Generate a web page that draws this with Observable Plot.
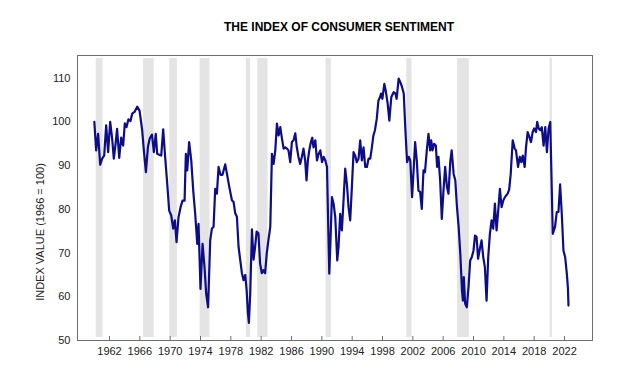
<!DOCTYPE html>
<html>
<head>
<meta charset="utf-8">
<script src="https://cdn.jsdelivr.net/npm/d3@7"></script>
<script src="https://cdn.jsdelivr.net/npm/@observablehq/plot@0.6"></script>
<style>
  html, body { margin: 0; padding: 0; background: #fff; }
  #wrap { position: relative; width: 623px; height: 365px; }
  #title { box-sizing: border-box; height: 40px; padding-top: 20px; padding-left: 55px; line-height: 14px;
    text-align: center; font: bold 12px Arial, "Liberation Sans", sans-serif; color: #000; width: 623px; }
  #ylabel { position: absolute; left: -60px; top: 226px; width: 200px; height: 12px; line-height: 12px;
    text-align: center; font: 11px Arial, "Liberation Sans", sans-serif; color: #222;
    transform: rotate(-90deg); transform-origin: 50% 50%; white-space: nowrap; }
</style>
</head>
<body>
<div id="wrap">
  <div id="title"></div>
  <div id="chart"></div>
  <div id="ylabel"></div>
</div>
<script>
const title = "THE INDEX OF CONSUMER SENTIMENT";
const yLabel = "INDEX VALUE (1966 = 100)";

const dates = [
  1960.0, 1960.24, 1960.5, 1960.77, 1961.03, 1961.3, 1961.56, 1961.82, 1962.09, 1962.35, 1962.57, 1962.8,
  1963.0, 1963.28, 1963.54, 1963.8, 1964.02, 1964.24, 1964.5, 1964.77, 1964.99, 1965.3, 1965.65, 1965.96,
  1966.31, 1966.53, 1966.8, 1967.06, 1967.3, 1967.6, 1967.85, 1968.1, 1968.29, 1968.55, 1968.82, 1969.08,
  1969.34, 1969.61, 1969.87, 1970.14, 1970.4, 1970.62, 1970.84, 1971.1, 1971.37, 1971.63, 1971.9, 1972.07,
  1972.25, 1972.5, 1972.78, 1973.04, 1973.3, 1973.57, 1973.74, 1974.0, 1974.27, 1974.53, 1974.75, 1975.0,
  1975.28, 1975.5, 1975.72, 1975.94, 1976.16, 1976.38, 1976.64, 1976.9, 1977.26, 1977.48, 1977.8, 1978.14,
  1978.36, 1978.58, 1978.8, 1979.02, 1979.24, 1979.46, 1979.68, 1979.9, 1980.08, 1980.25, 1980.38, 1980.56,
  1980.78, 1981.0, 1981.2, 1981.4, 1981.64, 1981.86, 1982.08, 1982.3, 1982.52, 1982.74, 1982.96, 1983.2,
  1983.42, 1983.64, 1983.86, 1984.08, 1984.3, 1984.52, 1984.74, 1984.96, 1985.18, 1985.4, 1985.6, 1985.83,
  1986.05, 1986.27, 1986.5, 1986.7, 1986.92, 1987.14, 1987.36, 1987.58, 1987.8, 1987.98, 1988.16, 1988.34,
  1988.56, 1988.74, 1988.9, 1989.14, 1989.36, 1989.58, 1989.8, 1990.02, 1990.24, 1990.46, 1990.68, 1990.8,
  1990.98, 1991.11, 1991.33, 1991.55, 1991.77, 1992.03, 1992.2, 1992.42, 1992.64, 1992.86, 1993.08, 1993.3,
  1993.52, 1993.74, 1993.96, 1994.18, 1994.4, 1994.6, 1994.84, 1995.06, 1995.28, 1995.5, 1995.72, 1995.94,
  1996.16, 1996.38, 1996.6, 1996.8, 1997.0, 1997.24, 1997.46, 1997.68, 1997.8, 1997.98, 1998.24, 1998.42,
  1998.68, 1998.9, 1999.16, 1999.47, 1999.7, 1999.86, 2000.13, 2000.35, 2000.57, 2000.8, 2001.0, 2001.24,
  2001.46, 2001.66, 2001.9, 2002.1, 2002.3, 2002.52, 2002.74, 2002.96, 2003.18, 2003.4, 2003.6, 2003.84,
  2004.06, 2004.28, 2004.42, 2004.6, 2004.8, 2005.03, 2005.2, 2005.38, 2005.6, 2005.82, 2006.04, 2006.26,
  2006.5, 2006.7, 2006.94, 2007.12, 2007.38, 2007.6, 2007.82, 2008.04, 2008.26, 2008.48, 2008.6, 2008.72,
  2008.9, 2009.12, 2009.34, 2009.56, 2009.78, 2010.0, 2010.2, 2010.4, 2010.6, 2010.84, 2011.06, 2011.28,
  2011.5, 2011.72, 2011.94, 2012.16, 2012.38, 2012.6, 2012.82, 2013.04, 2013.26, 2013.48, 2013.7, 2013.92,
  2014.14, 2014.5, 2014.7, 2014.9, 2015.17, 2015.43, 2015.6, 2015.87, 2016.1, 2016.3, 2016.5, 2016.75,
  2016.92, 2017.14, 2017.36, 2017.58, 2017.8, 2018.0, 2018.24, 2018.4, 2018.6, 2018.8, 2019.0, 2019.24,
  2019.46, 2019.68, 2019.9, 2020.12, 2020.45, 2020.75, 2020.98, 2021.2, 2021.42, 2021.64, 2021.86, 2022.08,
  2022.3, 2022.45, 2022.52
];
const sentiment = [
  100.0, 93.5, 97.3, 90.2, 91.6, 92.3, 99.2, 93.1, 100.0, 96.2, 91.6, 95.0,
  98.4, 91.8, 96.4, 94.6, 99.7, 98.8, 100.6, 100.2, 101.9, 102.3, 103.5, 102.6,
  98.1, 93.5, 88.5, 94.2, 96.2, 97.1, 93.1, 97.3, 92.7, 92.5, 92.3, 98.3,
  91.9, 85.9, 79.7, 78.6, 75.6, 77.5, 72.5, 78.2, 80.5, 82.0, 82.0, 92.7,
  88.9, 95.4, 91.2, 84.3, 79.0, 72.1, 76.7, 61.8, 72.1, 66.8, 60.7, 57.6,
  72.9, 75.6, 76.0, 84.7, 83.6, 89.7, 87.9, 87.9, 90.3, 88.2, 85.1, 82.1,
  81.7, 79.1, 78.3, 71.4, 68.4, 65.4, 63.8, 65.0, 61.6, 56.3, 54.0, 60.9,
  75.4, 68.5, 71.4, 74.9, 74.5, 67.6, 65.4, 66.1, 65.4, 70.0, 73.0, 76.0,
  92.7, 90.4, 93.5, 99.6, 96.9, 98.8, 96.2, 93.9, 94.2, 93.9, 93.5, 90.8,
  95.4, 95.8, 97.4, 94.2, 92.0, 90.4, 92.0, 93.9, 91.2, 86.6, 91.2, 93.5,
  95.4, 96.4, 94.2, 95.8, 91.2, 92.7, 93.5, 90.8, 92.0, 91.2, 89.7, 79.7,
  65.3, 71.4, 82.8, 81.3, 78.2, 68.3, 71.4, 79.0, 75.2, 82.0, 89.3, 85.9,
  80.5, 77.5, 85.1, 93.1, 92.3, 90.8, 91.6, 95.8, 91.2, 94.2, 89.7, 89.7,
  91.6, 91.6, 94.2, 96.9, 98.1, 100.7, 104.9, 105.7, 106.5, 105.3, 108.7, 107.2,
  104.2, 100.3, 105.7, 106.8, 106.5, 105.3, 109.9, 109.1, 108.0, 106.5, 98.8, 90.8,
  92.0, 91.2, 82.8, 88.9, 95.4, 91.2, 84.3, 84.0, 80.1, 88.9, 88.5, 93.5,
  97.3, 93.5, 95.8, 93.5, 95.0, 94.6, 89.7, 92.0, 86.6, 77.8, 84.3, 89.7,
  85.1, 83.6, 91.0, 93.5, 88.1, 86.6, 80.5, 76.0, 69.8, 61.4, 59.1, 64.5,
  58.4, 57.6, 62.2, 68.3, 69.1, 70.6, 74.0, 73.7, 68.7, 71.0, 72.9, 69.1,
  66.8, 59.1, 69.1, 74.4, 77.5, 75.6, 81.3, 75.2, 79.7, 84.7, 80.5, 82.0,
  82.8, 83.6, 84.5, 88.0, 95.8, 93.9, 93.5, 89.7, 92.0, 90.8, 92.3, 89.7,
  94.2, 97.7, 96.6, 95.4, 97.7, 98.5, 97.7, 100.0, 98.5, 98.1, 98.8, 94.6,
  98.8, 93.1, 98.5, 100.0, 74.4, 76.0, 79.4, 79.4, 85.7, 79.0, 70.6, 69.1,
  65.4, 62.0, 58.0
];

const recessionStart = [1960.25, 1966.5, 1969.95, 1973.95, 1980.05, 1981.55, 1990.55, 2001.2, 2007.9, 2020.1];
const recessionEnd   = [1961.15, 1967.9, 1970.95, 1975.25, 1980.6, 1982.9, 1991.25, 2001.9, 2009.45, 2020.4];

const xTicks = [1962, 1966, 1970, 1974, 1978, 1982, 1986, 1990, 1994, 1998, 2002, 2006, 2010, 2014, 2018, 2022];
const yTicks = [50, 60, 70, 80, 90, 100, 110];

const series = dates.map((d, i) => ({year: d, value: sentiment[i]}));
const recessions = recessionStart.map((s, i) => ({start: s, end: recessionEnd[i]}));

document.getElementById("title").textContent = title;
document.getElementById("ylabel").textContent = yLabel;

const chart = Plot.plot({
  width: 623,
  height: 325,
  marginTop: 15,
  marginBottom: 25,
  marginLeft: 77,
  marginRight: 31,
  style: {fontFamily: "Arial, 'Liberation Sans', sans-serif", fontSize: "11px", color: "#222", background: "#fff"},
  x: {domain: [1957.78, 2025.69]},
  y: {domain: [50, 115.2]},
  marks: [
    Plot.rect(recessions, {x1: "start", x2: "end", fill: "#e4e4e4", insetTop: 3, insetBottom: 3}),
    Plot.line(series, {x: "year", y: "value", stroke: "#0d0d8a", strokeWidth: 2.2, strokeLinejoin: "round"}),
    Plot.frame({stroke: "#6e6e6e"}),
    Plot.ruleX(xTicks, {x: d => d, insetTop: 281, stroke: "#6e6e6e"}),
    Plot.axisX({ticks: xTicks, tickSize: 0, tickPadding: 7, tickFormat: d => String(d), label: null}),
    Plot.axisY({ticks: yTicks, tickSize: 0, tickPadding: 7, label: null})
  ]
});
document.getElementById("chart").appendChild(chart);
</script>
</body>
</html>
